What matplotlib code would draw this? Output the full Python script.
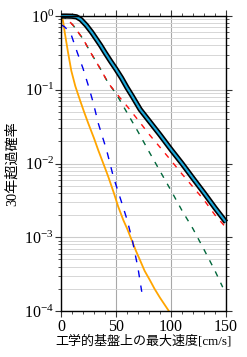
import numpy as np
import matplotlib
matplotlib.use("Agg")
import matplotlib.pyplot as plt
from matplotlib.ticker import LogLocator, FixedLocator, NullFormatter

plt.rcParams['font.family'] = ['Liberation Serif', 'Noto Sans CJK JP']
plt.rcParams['mathtext.fontset'] = 'stix'

# hazard curves (x in cm/s, y = 30-year exceedance probability)
x_total = [0, 5, 10, 14, 18, 23, 28, 32, 36, 40, 45, 50, 55, 60, 65, 72, 80, 90,
           100, 110, 120, 130, 140, 150]
p_total = [1.0, 1.0, 0.995, 0.977, 0.90, 0.75, 0.60, 0.49, 0.40, 0.32, 0.245, 0.19,
           0.145, 0.107, 0.081, 0.054, 0.038, 0.0245, 0.0155, 0.010, 0.0063, 0.0040,
           0.0025, 0.0016]

x_red = [0, 5, 11, 20, 27.5, 36, 43, 53.6, 60, 70, 80, 90, 100, 110, 120, 130, 140, 150]
p_red = [1.0, 0.93, 0.75, 0.49, 0.31, 0.19, 0.123, 0.078, 0.060, 0.039, 0.025, 0.0166,
         0.011, 0.0072, 0.0048, 0.0032, 0.0020, 0.00135]

x_green = [0, 5, 11, 20, 27.5, 36, 43, 50, 60, 70, 80, 90, 100, 110, 120, 130, 140, 147]
p_green = [1.0, 0.93, 0.75, 0.49, 0.31, 0.19, 0.123, 0.089, 0.049, 0.027, 0.0145,
           0.0079, 0.0043, 0.0023, 0.0013, 0.00068, 0.00035, 0.00021]

x_blue = [0, 3, 6, 9.4, 14.8, 20, 25, 29.4, 33.9, 41.5, 47.6, 55, 60, 65, 70, 73.4]
p_blue = [0.76, 0.72, 0.65, 0.55, 0.32, 0.195, 0.112, 0.066, 0.035, 0.0151, 0.0066,
          0.0030, 0.00174, 0.00089, 0.00038, 0.000182]

x_orange = [0, 1, 2, 3.4, 6.4, 9.4, 13, 17.3, 21, 24.8, 30, 33.9, 40, 43, 48, 52, 56.7,
            60, 64.3, 68, 71.8, 76, 80.9, 85, 90, 98]
p_orange = [1.0, 0.98, 0.83, 0.60, 0.32, 0.18, 0.112, 0.072, 0.050, 0.035, 0.022,
            0.0151, 0.0087, 0.0066, 0.0040, 0.0026, 0.0017, 0.00132, 0.00091, 0.00066,
            0.00049, 0.00035, 0.00026, 0.00020, 0.000151, 0.0001]

xticks = [0, 50, 100, 150]

fig = plt.figure(figsize=(2.47, 3.57), dpi=100)
ax = fig.add_axes([0.247, 0.129, 0.668, 0.826])

ax.plot(x_orange, p_orange, color='#ffa500', lw=1.3)
ax.plot(x_blue, p_blue, color='#0000ee', lw=1.0, dashes=(5, 6))
ax.plot(x_green, p_green, color='#00663a', lw=1.0, dashes=(4, 5))
ax.plot(x_red, p_red, color='#ff1010', lw=1.0, linestyle=(1, (4, 5)))
ax.plot(x_total, p_total, color='black', lw=3.8, clip_on=False, solid_capstyle='butt')
ax.plot(x_total, p_total, color='#1ba6d8', lw=1.5, clip_on=False, solid_capstyle='butt')

ax.set_yscale('log')
ax.set_xlim(0, 150)
ax.set_ylim(1e-4, 1)
ax.xaxis.set_major_locator(FixedLocator(xticks))
ax.xaxis.set_minor_locator(FixedLocator(np.arange(0, 151, 10)))
ax.yaxis.set_major_locator(LogLocator(base=10, numticks=10))
ax.yaxis.set_minor_locator(LogLocator(base=10, subs=np.arange(2, 10), numticks=10))
ax.yaxis.set_minor_formatter(NullFormatter())

ax.grid(True, which='major', axis='x', color='#a8a8a8', lw=0.8)
ax.grid(True, which='major', axis='y', color='#cccccc', lw=0.8)
ax.grid(True, which='minor', axis='y', color='#d6d6d6', lw=0.7)
ax.set_axisbelow(True)

ax.tick_params(which='both', direction='out', top=True, right=True, labelsize=11.5,
               color='#333333')
ax.tick_params(which='major', length=4, width=0.8)
ax.tick_params(which='minor', length=2.5, width=0.6)
ax.tick_params(axis='x', pad=2)
ax.tick_params(axis='y', pad=1)
for s in ax.spines.values():
    s.set_linewidth(1.0)

ax.set_xlabel('工学的基盤上の最大速度[cm/s]', fontsize=9.4, labelpad=0)
ax.set_ylabel('30年超過確率', fontsize=10.2, labelpad=4)

fig.savefig('out.png', dpi=100)
